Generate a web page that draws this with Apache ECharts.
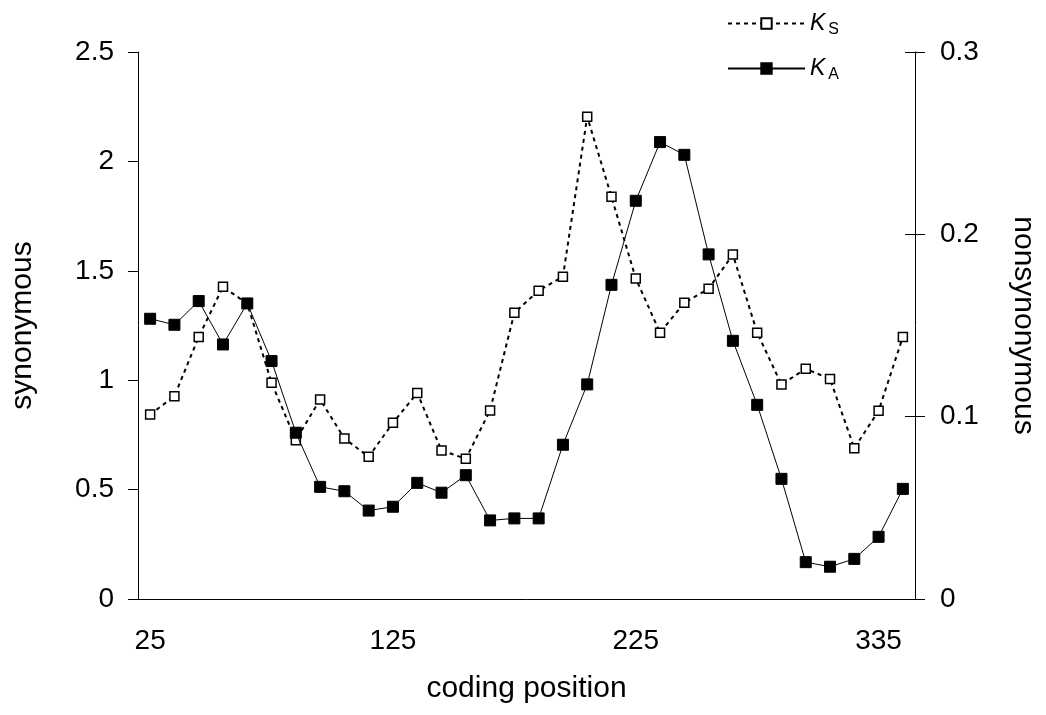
<!DOCTYPE html>
<html>
<head>
<meta charset="utf-8">
<script src="https://cdn.jsdelivr.net/npm/echarts@6/dist/echarts.min.js"></script>
<style>
html,body{margin:0;padding:0;background:#fff;}
#chart{width:1046px;height:715px;}
</style>
</head>
<body>
<div id="chart"></div>
<script>
// coding positions (category labels; only every 10th is shown)
const positions = ['25','35','45','55','65','75','85','95','105','115',
  '125','135','145','155','165','175','185','195','205','215',
  '225','236','247','258','269','280','291','302','313','324',
  '335','346'];
// synonymous divergence (left axis)
const ksValues = [0.843,0.927,1.198,1.427,1.350,0.988,0.726,0.912,0.734,0.650,
  0.805,0.942,0.679,0.641,0.862,1.308,1.409,1.473,2.204,1.838,
  1.465,1.217,1.354,1.418,1.574,1.217,0.980,1.052,1.006,0.689,
  0.860,1.198];
// nonsynonymous divergence (right axis)
const kaValues = [0.1537,0.1504,0.1634,0.1396,0.1621,0.1305,0.0912,0.0615,0.0591,0.0485,
  0.0506,0.0637,0.0583,0.0679,0.0431,0.0442,0.0442,0.0846,0.1177,0.1723,
  0.2184,0.2506,0.2436,0.1890,0.1416,0.1065,0.0659,0.0202,0.0177,0.0220,
  0.0341,0.0604];
const seriesNames = ['Ks','Ka'];
const subscripts = {Ks:'S', Ka:'A'};

const FONT = '"Liberation Sans", Arial, sans-serif';
const chart = echarts.init(document.getElementById('chart'), null, {renderer:'canvas'});

function legendFor(name, top){
  return {
    data:[name], left:727, top:top, orient:'vertical',
    itemWidth:77, itemHeight:13, itemGap:0, padding:0,
    formatter: n => '{k|K}{s|' + subscripts[n] + '}',
    textStyle:{
      color:'#000', fontFamily:FONT,
      rich:{
        k:{fontSize:23, fontStyle:'italic', fontFamily:FONT, color:'#000'},
        s:{fontSize:16, fontFamily:FONT, color:'#000', padding:[12,0,0,3]}
      }
    }
  };
}

const option = {
  backgroundColor:'#fff',
  animation:false,
  textStyle:{fontFamily:FONT, color:'#000'},
  grid:{left:138, right:130, top:52, bottom:116, containLabel:false},
  legend:[legendFor('Ks', 12), legendFor('Ka', 57)],
  xAxis:{
    type:'category', data:positions, boundaryGap:true,
    name:'coding position', nameLocation:'middle', nameGap:75,
    nameTextStyle:{fontSize:30, fontFamily:FONT, color:'#000'},
    axisLine:{lineStyle:{color:'#000', width:1}},
    axisTick:{show:false},
    axisLabel:{interval:9, fontSize:28, fontFamily:FONT, color:'#000', margin:28},
    splitLine:{show:false}
  },
  yAxis:[
    {
      type:'value', position:'left', min:0, max:2.5, interval:0.5,
      name:'synonymous', nameLocation:'middle', nameGap:100, nameRotate:90,
      nameTextStyle:{fontSize:30, fontFamily:FONT, color:'#000'},
      axisLine:{show:true, lineStyle:{color:'#000', width:1}},
      axisTick:{show:true, inside:false, length:10, lineStyle:{color:'#000'}},
      axisLabel:{fontSize:28, fontFamily:FONT, color:'#000', margin:24},
      splitLine:{show:false}
    },
    {
      type:'value', position:'right', min:0, max:0.3, interval:0.1,
      name:'nonsynonymous', nameLocation:'middle', nameGap:93, nameRotate:-90,
      nameTextStyle:{fontSize:30, fontFamily:FONT, color:'#000'},
      axisLine:{show:true, lineStyle:{color:'#000', width:1}},
      axisTick:{show:true, inside:false, length:10, lineStyle:{color:'#000'}},
      axisLabel:{fontSize:28, fontFamily:FONT, color:'#000', margin:25},
      splitLine:{show:false}
    },
    {
      // inner half of the crossing tick marks on the right axis
      type:'value', position:'right', min:0, max:0.3, interval:0.1,
      axisLine:{show:false},
      axisTick:{show:true, inside:true, length:10, lineStyle:{color:'#000'}},
      axisLabel:{show:false},
      splitLine:{show:false}
    }
  ],
  series:[
    {
      name:seriesNames[0], type:'line', yAxisIndex:0, data:ksValues,
      symbol:'rect', symbolSize:9,
      lineStyle:{color:'#000', width:2, type:[4,4]},
      itemStyle:{color:'#fff', borderColor:'#000', borderWidth:1.5},
      emphasis:{disabled:true}, z:2
    },
    {
      name:seriesNames[1], type:'line', yAxisIndex:1, data:kaValues,
      symbol:'rect', symbolSize:11,
      lineStyle:{color:'#000', width:1, type:'solid'},
      itemStyle:{color:'#000', borderColor:'#000', borderWidth:1},
      emphasis:{disabled:true}, z:3
    }
  ]
};
chart.setOption(option);
</script>
</body>
</html>
